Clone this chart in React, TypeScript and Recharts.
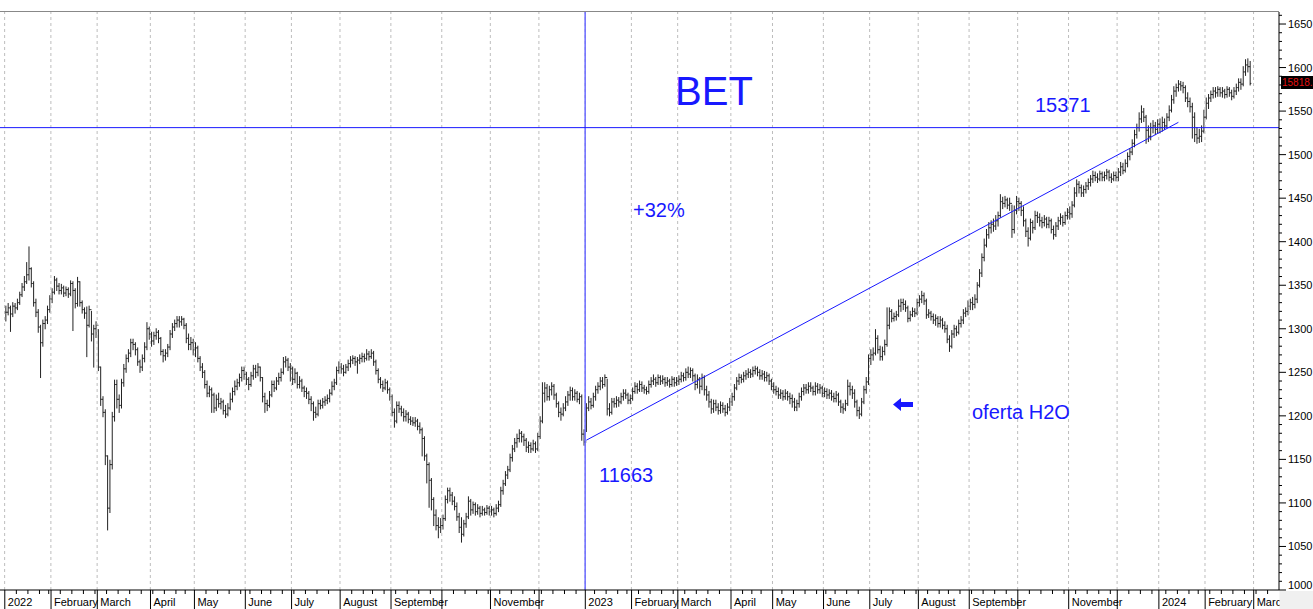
import React from 'react'
import { ComposedChart, Bar, XAxis, YAxis, ReferenceLine } from 'recharts'

// BVB closed sessions (weekdays)
const holidays = [
  '2022-01-24', '2022-04-22', '2022-04-25', '2022-06-01', '2022-06-13', '2022-08-15',
  '2022-11-30', '2022-12-01', '2022-12-26',
  '2023-01-02', '2023-01-24', '2023-04-14', '2023-04-17', '2023-05-01', '2023-06-01',
  '2023-06-05', '2023-08-15', '2023-11-30', '2023-12-01', '2023-12-25', '2023-12-26',
  '2024-01-01', '2024-01-02', '2024-01-24',
]

const monthNames = ['January', 'February', 'March', 'April', 'May', 'June', 'July',
  'August', 'September', 'October', 'November', 'December']

// daily bars, [high, low, close] in index points / 10
const bars2022 = [
  [1326,1309,1319],[1329,1316,1324],[1326,1297,1317],[1330,1314,1326],[1329,1318,1324],
  [1334,1322,1330],[1342,1328,1339],[1352,1337,1348],[1360,1344,1354],[1376,1352,1362],
  [1394,1356,1369],[1370,1348,1352],[1354,1326,1330],[1334,1314,1319],[1322,1296,1302],
  [1304,1244,1284],[1310,1280,1306],[1314,1300,1310],[1326,1306,1322],[1338,1319,1334],
  [1346,1330,1342],[1360,1340,1356],[1358,1344,1349],[1352,1340,1344],[1351,1340,1347],
  [1349,1337,1341],[1348,1338,1345],[1347,1336,1340],[1355,1338,1352],[1354,1298,1344],
  [1346,1324,1329],[1359,1326,1354],[1354,1326,1330],[1332,1318,1322],[1324,1312,1318],
  [1325,1268,1304],[1326,1302,1322],[1320,1286,1294],[1304,1256,1300],[1308,1290,1304],
  [1299,1252,1256],[1256,1212,1219],[1222,1199,1204],[1207,1144,1154],[1154,1069,1094],
  [1149,1089,1144],[1204,1139,1199],[1241,1194,1236],[1241,1209,1219],[1224,1204,1212],
  [1242,1209,1238],[1259,1234,1254],[1270,1250,1266],[1276,1262,1272],[1288,1268,1284],
  [1288,1276,1282],[1284,1270,1276],[1278,1258,1262],[1264,1250,1256],[1270,1252,1266],
  [1284,1262,1279],[1307,1276,1300],[1302,1288,1294],
  [1296,1280,1286],[1296,1282,1292],[1300,1288,1296],[1298,1284,1289],[1290,1270,1274],
  [1276,1262,1269],[1276,1264,1272],[1282,1268,1279],[1298,1276,1294],[1306,1290,1302],
  [1310,1298,1306],[1314,1302,1310],[1314,1302,1308],[1314,1304,1311],[1312,1300,1304],
  [1306,1284,1289],[1294,1276,1282],[1290,1276,1284],[1288,1270,1276],
  [1284,1268,1278],[1280,1262,1266],[1268,1252,1256],[1260,1244,1250],[1252,1232,1236],
  [1240,1222,1226],[1234,1222,1230],[1232,1204,1224],[1226,1204,1209],[1224,1206,1219],
  [1226,1210,1214],[1220,1208,1216],[1218,1202,1206],[1212,1198,1202],[1214,1200,1209],
  [1226,1207,1219],[1232,1216,1228],[1240,1224,1234],[1242,1230,1238],[1248,1234,1244],
  [1256,1240,1252],[1256,1242,1248],
  [1250,1236,1242],[1244,1230,1236],[1250,1234,1246],[1258,1242,1254],[1258,1244,1250],
  [1260,1246,1256],[1256,1240,1244],[1244,1216,1222],[1226,1204,1214],[1218,1206,1212],
  [1228,1210,1224],[1240,1222,1236],[1240,1228,1232],[1244,1230,1240],[1249,1236,1244],
  [1254,1240,1250],[1267,1248,1262],[1268,1256,1264],[1266,1252,1256],[1260,1240,1254],
  [1256,1236,1242],[1254,1238,1249],[1250,1232,1236],[1245,1232,1240],[1242,1228,1232],
  [1234,1222,1228],[1232,1220,1226],[1228,1214,1219],[1222,1206,1214],[1216,1195,1204],
  [1210,1198,1202],[1218,1200,1214],[1218,1208,1212],[1220,1209,1216],[1222,1212,1218],
  [1224,1214,1220],[1230,1216,1226],[1239,1224,1234],[1242,1230,1238],[1256,1236,1252],
  [1262,1249,1256],
  [1260,1249,1254],[1258,1246,1250],[1259,1249,1256],[1264,1252,1260],[1268,1256,1264],
  [1269,1260,1266],[1268,1258,1262],[1267,1249,1264],[1270,1260,1266],[1272,1262,1268],
  [1271,1262,1266],[1276,1264,1271],[1274,1264,1268],[1276,1266,1272],[1274,1258,1262],
  [1264,1248,1252],[1254,1238,1242],[1244,1232,1236],[1240,1228,1232],[1242,1230,1238],
  [1240,1226,1230],[1232,1218,1222],
  [1224,1200,1204],[1208,1187,1194],[1216,1192,1212],[1216,1204,1208],[1211,1200,1204],
  [1208,1194,1199],[1206,1194,1202],[1204,1192,1196],[1199,1190,1194],[1198,1189,1192],
  [1198,1188,1194],[1196,1184,1188],[1192,1180,1184],[1186,1154,1174],[1176,1149,1154],
  [1156,1123,1144],[1146,1095,1126],[1128,1092,1104],[1106,1074,1086],[1092,1069,1074],
  [1083,1060,1072],[1082,1066,1074],
  [1086,1070,1082],[1108,1080,1104],[1117,1100,1114],[1117,1102,1109],[1112,1098,1102],
  [1107,1092,1096],[1100,1080,1084],[1088,1066,1072],[1083,1055,1064],[1080,1062,1076],
  [1088,1072,1084],[1107,1082,1102],[1104,1086,1092],[1101,1088,1098],[1100,1086,1090],
  [1098,1087,1094],[1096,1084,1088],[1096,1086,1092],[1094,1086,1089],[1097,1087,1094],
  [1096,1086,1090],
  [1096,1086,1092],[1094,1084,1088],[1098,1086,1094],[1102,1090,1098],[1118,1096,1114],
  [1126,1110,1122],[1136,1120,1132],[1142,1128,1138],[1156,1136,1152],[1166,1148,1162],
  [1174,1159,1169],[1179,1164,1174],[1184,1170,1180],[1182,1170,1176],[1179,1166,1172],
  [1174,1159,1164],[1170,1158,1166],[1169,1158,1162],[1172,1160,1168],[1170,1158,1162],
  [1180,1160,1176],
  [1199,1174,1194],[1238,1192,1226],[1238,1216,1232],[1236,1218,1222],[1234,1218,1230],
  [1238,1224,1234],[1236,1219,1224],[1226,1210,1214],[1216,1199,1204],[1209,1195,1202],
  [1214,1200,1209],[1222,1206,1216],[1228,1212,1224],[1233,1218,1229],[1232,1218,1222],
  [1230,1218,1226],[1228,1216,1219],[1226,1214,1222],[1224,1172,1179],[1184,1166.3,1170],
]

const bars2023 = [
  [1214,1182,1209],[1222,1206,1216],[1220,1208,1212],[1226,1210,1222],[1234,1218,1230],
  [1238,1226,1234],[1244,1230,1240],[1244,1232,1236],[1247,1234,1244],[1242,1201,1208],
  [1214,1200,1204],[1220,1202,1216],[1220,1210,1214],[1222,1210,1218],[1221,1211,1216],
  [1226,1214,1222],[1230,1218,1226],[1230,1220,1224],[1226,1214,1218],[1224,1214,1220],
  [1232,1218,1228],[1238,1226,1234],[1237,1226,1230],[1240,1228,1236],[1239,1228,1232],
  [1235,1226,1230],[1233,1225,1228],[1240,1226,1236],[1244,1233,1240],[1247,1236,1242],
  [1244,1234,1238],[1247,1236,1244],[1246,1236,1240],[1246,1237,1242],[1244,1234,1238],
  [1244,1235,1240],[1242,1233,1236],[1245,1234,1242],[1244,1234,1238],[1244,1235,1240],
  [1246,1236,1242],[1250,1239,1246],[1249,1240,1244],[1254,1241,1250],[1256,1244,1248],
  [1255,1244,1252],[1254,1240,1246],[1248,1230,1236],[1247,1232,1242],[1244,1226,1234],
  [1248,1230,1244],[1246,1224,1230],[1234,1218,1224],[1228,1210,1216],[1219,1203,1208],
  [1218,1204,1214],[1218,1206,1210],[1214,1202,1206],[1216,1203,1212],[1215,1204,1208],
  [1212,1200,1204],[1214,1202,1210],[1220,1206,1216],
  [1226,1212,1222],[1236,1218,1232],[1244,1230,1240],[1248,1236,1244],[1247,1238,1242],
  [1250,1239,1246],[1252,1242,1248],[1254,1244,1250],[1253,1244,1248],[1256,1245,1252],
  [1257,1248,1254],[1256,1246,1250],[1253,1242,1246],[1252,1242,1248],[1251,1240,1244],
  [1250,1240,1246],[1248,1236,1240],[1242,1230,1234],
  [1238,1226,1230],[1234,1224,1228],[1232,1220,1224],[1230,1220,1226],[1229,1218,1222],
  [1230,1219,1226],[1228,1218,1222],[1226,1214,1220],[1224,1210,1216],[1220,1206,1210],
  [1218,1206,1214],[1226,1210,1222],[1232,1218,1228],[1236,1224,1232],[1236,1226,1230],
  [1238,1226,1234],[1238,1228,1232],[1234,1224,1228],[1238,1224,1234],[1237,1226,1230],
  [1236,1226,1232],[1234,1222,1226],
  [1232,1222,1228],[1231,1220,1224],[1230,1220,1226],[1229,1218,1222],[1226,1216,1220],
  [1228,1216,1224],[1226,1212,1216],[1218,1204,1210],[1214,1203,1208],[1218,1206,1214],
  [1241,1212,1234],[1238,1224,1230],[1234,1220,1226],[1230,1210,1216],[1218,1200,1206],
  [1210,1197,1202],[1220,1200,1216],[1234,1214,1230],[1244,1226,1239],[1270,1236,1266],
  [1276,1259,1270],[1278,1264,1272],[1299,1270,1289],[1292,1272,1276],[1280,1264,1268],
  [1279,1264,1274],[1287,1270,1282],[1324,1280,1304],[1324,1300,1320],[1322,1308,1312],
  [1318,1309,1314],[1320,1310,1316],[1333,1314,1326],[1334,1320,1330],[1334,1322,1328],
  [1332,1320,1324],[1326,1308,1312],[1320,1309,1316],[1324,1314,1320],[1323,1314,1318],
  [1334,1316,1330],
  [1338,1326,1334],[1343,1330,1338],[1341,1328,1332],[1334,1312,1316],[1322,1313,1318],
  [1320,1310,1314],[1317,1306,1310],[1316,1304,1312],[1314,1302,1306],[1314,1302,1310],
  [1312,1300,1304],[1308,1296,1300],[1304,1284,1288],[1292,1274,1280],[1298,1278,1294],
  [1304,1290,1300],[1303,1292,1296],[1310,1294,1306],[1314,1302,1310],[1322,1306,1318],
  [1324,1314,1320],[1332,1316,1326],
  [1334,1322,1330],[1336,1322,1328],[1339,1324,1334],[1353,1330,1350],[1368,1348,1364],
  [1386,1360,1382],[1403,1378,1396],[1414,1394,1408],[1422,1404,1416],[1424,1410,1420],
  [1426,1412,1418],[1430,1414,1424],[1434,1418,1430],[1454,1428,1446],[1451,1438,1444],
  [1452,1440,1448],[1450,1438,1442],[1450,1436,1444],[1442,1405,1414],[1441,1410,1436],
  [1452,1432,1446],
  [1450,1436,1444],[1446,1430,1436],[1440,1418,1424],[1426,1406,1412],[1416,1395,1404],
  [1426,1402,1422],[1424,1410,1416],[1435,1414,1430],[1434,1422,1428],[1432,1418,1424],
  [1428,1416,1422],[1430,1418,1426],[1428,1416,1420],[1428,1416,1424],[1426,1410,1414],
  [1418,1403,1408],[1422,1406,1418],[1428,1414,1424],[1432,1420,1428],[1430,1418,1422],
  [1434,1420,1430],[1438,1426,1434],
  [1440,1426,1432],[1446,1428,1442],[1462,1440,1456],[1471,1452,1466],[1469,1456,1462],
  [1465,1452,1456],[1464,1452,1460],[1468,1456,1464],[1472,1460,1468],[1476,1464,1472],
  [1481,1468,1476],[1480,1470,1474],[1478,1468,1472],[1481,1470,1478],[1480,1470,1474],
  [1480,1470,1476],[1483,1472,1480],[1482,1470,1474],[1478,1468,1472],[1480,1470,1476],
  [1480,1470,1474],
  [1484,1470,1480],[1491,1476,1486],[1490,1478,1482],[1494,1480,1490],[1502,1486,1498],
  [1507,1494,1503],[1517,1500,1513],[1528,1509,1523],[1535,1519,1531],[1548,1527,1541],
  [1556,1537,1549],[1553,1538,1543],[1545,1513,1528],[1533,1515,1521],[1536,1517,1531],
  [1539,1525,1533],[1537,1523,1529],[1540,1525,1535],
]

const bars2024 = [
  [1541,1525,1531],[1543,1527,1537],[1541,1529,1533],[1547,1531,1543],[1556,1539,1551],
  [1568,1549,1563],[1578,1559,1573],[1581,1567,1577],[1585,1573,1581],[1584,1574,1579],
  [1583,1571,1577],[1579,1561,1565],[1571,1555,1561],[1565,1549,1555],[1559,1519,1543],
  [1548,1515,1523],[1531,1513,1519],[1529,1514,1521],[1533,1515,1527],[1551,1525,1543],
  [1565,1541,1559],[1569,1553,1565],[1573,1561,1569],[1577,1565,1573],[1577,1566,1571],
  [1578,1567,1575],[1577,1567,1571],[1577,1566,1573],[1575,1565,1569],[1578,1566,1575],
  [1577,1567,1571],[1574,1563,1567],[1577,1565,1573],[1581,1569,1577],[1587,1573,1583],
  [1587,1575,1581],[1601,1579,1595],[1609,1591,1603],[1610,1595,1601],[1607,1580,1581.8],
]

const yTicks = [1000, 1010, 1020, 1030, 1040, 1050, 1060, 1070, 1080, 1090, 1100, 1110, 1120,
  1130, 1140, 1150, 1160, 1170, 1180, 1190, 1200, 1210, 1220, 1230, 1240, 1250, 1260, 1270,
  1280, 1290, 1300, 1310, 1320, 1330, 1340, 1350, 1360, 1370, 1380, 1390, 1400, 1410, 1420,
  1430, 1440, 1450, 1460, 1470, 1480, 1490, 1500, 1510, 1520, 1530, 1540, 1550, 1560, 1570,
  1580, 1590, 1600, 1610, 1620, 1630, 1640, 1650, 1660]

const lead = 2 // empty sessions before the first bar
const lastValue = '15818.'
const blue = '#1818ff'
const font = '"Liberation Sans", Arial, sans-serif'

function sessions(from: string, to: string) {
  const out: string[] = []
  const d = new Date(from + 'T00:00:00Z')
  const end = new Date(to + 'T00:00:00Z')
  while (d <= end) {
    const wd = d.getUTCDay()
    const s = d.toISOString().slice(0, 10)
    if (wd !== 0 && wd !== 6 && !holidays.includes(s)) out.push(s)
    d.setUTCDate(d.getUTCDate() + 1)
  }
  return out
}

const days = sessions('2021-12-30', '2024-03-15')
const bars = [...bars2022, ...bars2023, ...bars2024]

const data = days.map((date, i) => {
  const b = bars[i - lead]
  if (!b) return { date }
  const prev = bars[i - lead - 1]
  return { date, high: b[0], low: b[1], close: b[2], open: prev ? prev[2] : b[2], range: [b[1], b[0]] }
})

const monthStarts: string[] = []
const weekStarts: string[] = []
const monthLabel: Record<string, string> = {}
days.forEach((d, i) => {
  if (i < lead) return
  const prev = days[i - 1]
  if (d.slice(0, 7) !== prev.slice(0, 7)) {
    monthStarts.push(d)
    const m = Number(d.slice(5, 7)) - 1
    monthLabel[d] = m === 0 ? d.slice(0, 4) : m === 9 || m === 11 ? '' : monthNames[m]
  } else if (new Date(d).getUTCDay() < new Date(prev).getUTCDay()) {
    weekStarts.push(d)
  }
})
const xTicks = days.filter((d) => monthStarts.includes(d) || weekStarts.includes(d))

const OhlcBar = (props: any) => {
  const { x, y, width, height, payload } = props
  if (payload.high == null) return null
  const top = Math.min(y, y + height)
  const h = Math.abs(height)
  const cx = x + width / 2
  const span = payload.high - payload.low
  const at = (v: number) => (span > 0 ? top + ((payload.high - v) / span) * h : top)
  return (
    <g stroke="#222" strokeWidth={1}>
      <line x1={cx} x2={cx} y1={top - 0.5} y2={top + h + 0.5} />
      <line x1={cx - 1.2} x2={cx} y1={at(payload.open)} y2={at(payload.open)} />
      <line x1={cx} x2={cx + 1.2} y1={at(payload.close)} y2={at(payload.close)} />
    </g>
  )
}

const YTick = (props: any) => {
  const { x, y, payload } = props
  const major = payload.value % 50 === 0
  // the bottom label sits just above the axis corner
  const ty = payload.value === 1000 ? y - 1 : y + 4
  return (
    <g>
      <line x1={x} x2={x + (major ? 7 : 3)} y1={y} y2={y} stroke="#000" />
      {major && (
        <text x={x + 9} y={ty} fontSize={11} fontFamily={font} fill="#000">
          {payload.value}
        </text>
      )}
    </g>
  )
}

const XTick = (props: any) => {
  const { x, y, payload } = props
  const isMonth = monthStarts.includes(payload.value)
  const bx = x - 1
  return (
    <g>
      <line x1={bx} x2={bx} y1={y} y2={y + (isMonth ? 19 : 4)} stroke="#000" />
      {isMonth && monthLabel[payload.value] && (
        <text x={bx + 3} y={y + 16} fontSize={11} fontFamily={font} fill="#000">
          {monthLabel[payload.value]}
        </text>
      )}
    </g>
  )
}

export default function App() {
  return (
    <div style={{ position: 'absolute', left: 0, top: 0, width: 1313, height: 609, background: '#fff' }}>
      <ComposedChart width={1313} height={609} data={data} margin={{ top: 12, right: 0, bottom: 0, left: 0 }}>
        <XAxis
          dataKey="date"
          ticks={xTicks}
          interval={0}
          tick={<XTick />}
          tickLine={false}
          tickSize={0}
          tickMargin={0}
          height={19}
          axisLine={{ stroke: '#000' }}
        />
        <YAxis
          orientation="right"
          type="number"
          domain={[1000, 1663.8]}
          ticks={yTicks}
          interval={0}
          allowDataOverflow
          tick={<YTick />}
          tickLine={false}
          tickSize={0}
          tickMargin={0}
          width={34}
          axisLine={{ stroke: '#000' }}
        />
        {monthStarts.map((d) => (
          <ReferenceLine key={d} x={d} position="start" stroke="#bdbdbd" strokeDasharray="3 3" />
        ))}
        <Bar dataKey="range" shape={<OhlcBar />} isAnimationActive={false} />
        <ReferenceLine x="2023-01-03" position="start" stroke="#6a6aff" strokeWidth={1.5} />
        <ReferenceLine y={1531} stroke={blue} />
        <ReferenceLine
          segment={[{ x: '2023-01-03', y: 1172 }, { x: '2024-01-15', y: 1537.1 }]}
          stroke={blue}
        />
      </ComposedChart>
      <svg width={1313} height={609} style={{ position: 'absolute', left: 0, top: 0, pointerEvents: 'none' }}>
        <line x1={0} x2={1279} y1={11.5} y2={11.5} stroke="#888" />
        <rect x={1279.5} y={591} width={34} height={18} fill="#f0f0f0" />
        <rect x={1281} y={76} width={32} height={13} fill="#000" />
        <text x={1282} y={86} fontSize={10} fontFamily={font} fill="#e01010">{lastValue}</text>
        <g fill={blue} fontFamily={font}>
          <text x={714} y={105} fontSize={40} textAnchor="middle">BET</text>
          <text x={633} y={217} fontSize={20}>+32%</text>
          <text x={599} y={482} fontSize={20}>11663</text>
          <text x={1035} y={112} fontSize={20}>15371</text>
          <text x={972} y={419} fontSize={20}>oferta H2O</text>
          <path d="M893,404.5 L901,398 L901,402 L913,402 L913,407 L901,407 L901,411 Z" />
        </g>
      </svg>
    </div>
  )
}
